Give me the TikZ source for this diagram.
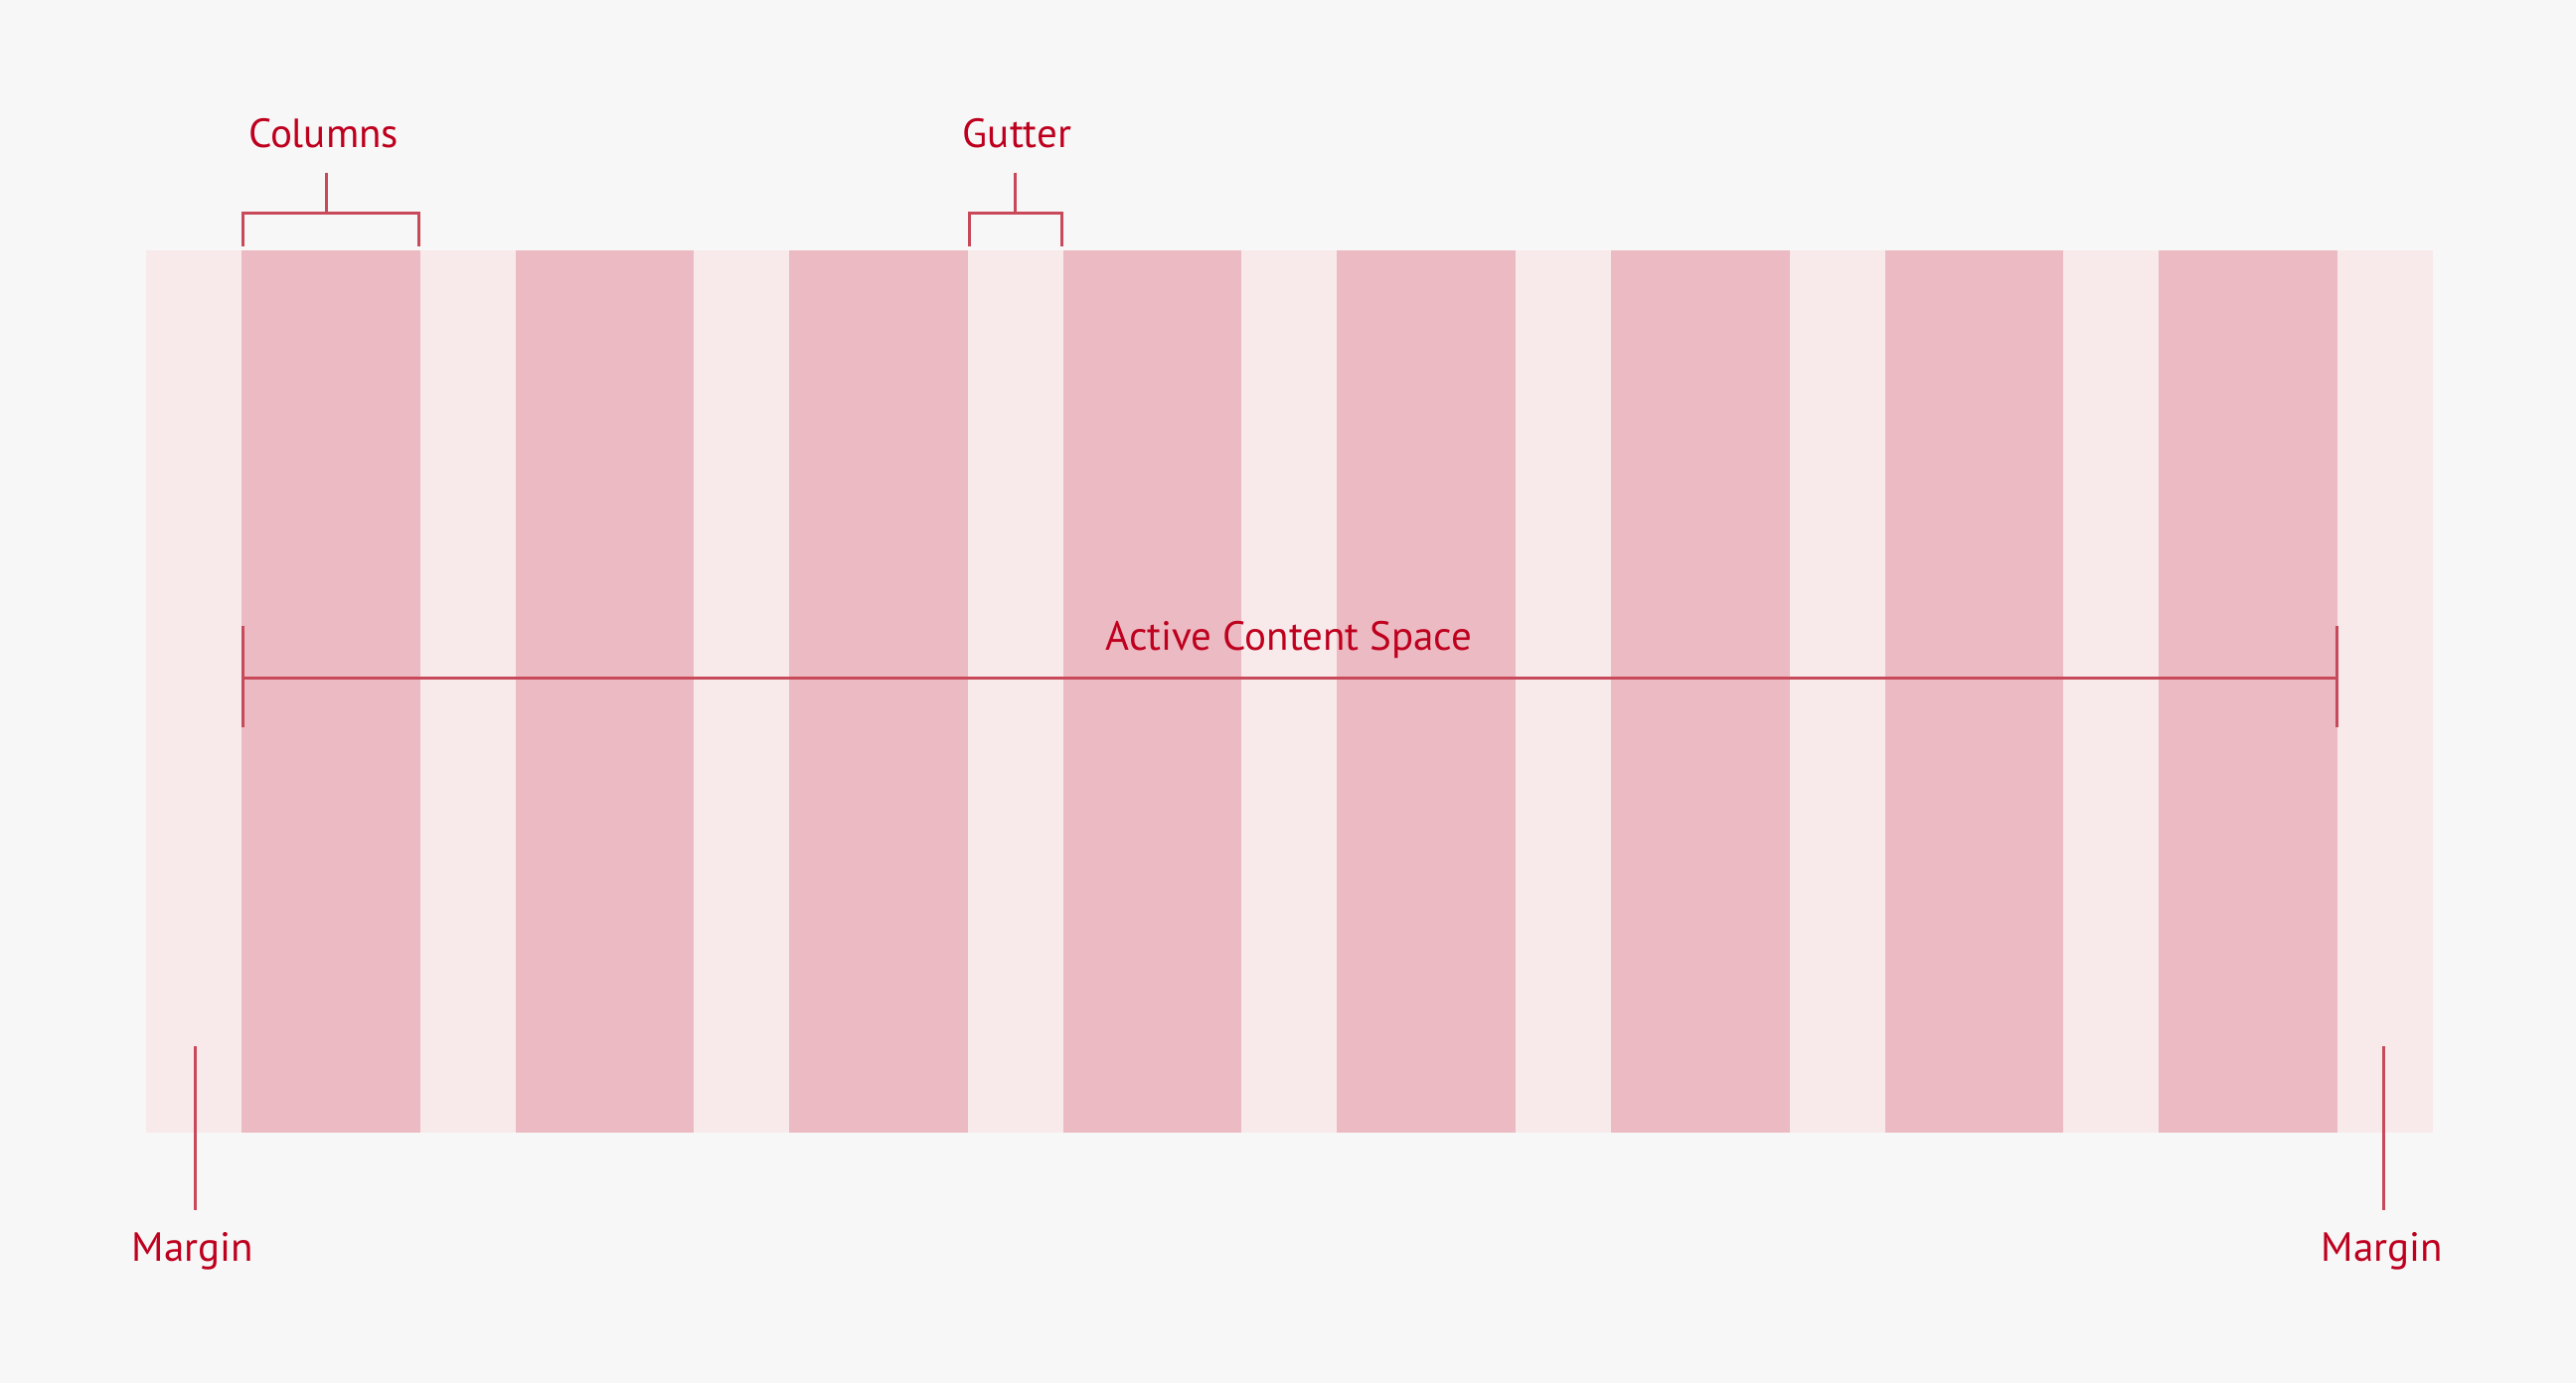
\documentclass[tikz,border=0pt]{standalone}
\usepackage{fontspec}
\setmainfont{PT Sans}
\usetikzlibrary{calc}
\definecolor{bgc}{HTML}{F7F7F7}
\definecolor{lightc}{HTML}{F8EAEB}
\definecolor{colc}{HTML}{ECBAC2}
\definecolor{linec}{HTML}{C84A5A}
\definecolor{textc}{HTML}{BE001E}
\begin{document}
\begin{tikzpicture}[x=1pt,y=-1pt,
  colbox/.style={rectangle,fill=colc,inner sep=0pt,outer sep=0pt,minimum width=179.6pt,minimum height=888pt,anchor=north west},
  lbl/.style={text=textc,font=\fontsize{41}{49}\selectfont,inner sep=0pt,anchor=base},
  mark line/.style={draw=linec,line width=3pt}]
\fill[bgc] (0,0) rectangle (2592,1392);
\useasboundingbox (0,0) rectangle (2592,1392);
\node[rectangle,fill=lightc,inner sep=0pt,outer sep=0pt,minimum width=2301pt,minimum height=888pt,anchor=north west] (area) at (147,252) {};
\foreach \i in {1,...,8}{
  \node[colbox] (col\i) at ({243+(\i-1)*275.6},252) {};
}
% labels
\node[lbl] (columns) at (325.5,148) {Columns};
\node[lbl] (gutter) at (1023.5,148) {Gutter};
\node[lbl] (active) at (1297,654) {Active Content Space};
\node[lbl] (marginl) at (194,1269) {Margin};
\node[lbl] (marginr) at (2397,1269) {Margin};
% columns bracket
\coordinate (cbl) at ([xshift=1.5pt,yshift=4pt]col1.north west);
\coordinate (cbr) at ([xshift=-1.5pt,yshift=4pt]col1.north east);
\coordinate (cstemb) at (328,214);
\draw[mark line] (cbl) -- ++(0,-34) -| (cbr);
\draw[mark line] (cstemb) -- ++(0,-40);
% gutter bracket
\coordinate (gbl) at ([xshift=1.5pt,yshift=4pt]col3.north east);
\coordinate (gbr) at ([xshift=-1.5pt,yshift=4pt]col4.north west);
\coordinate (gstemb) at ($(gbl)!0.5!(gbr)$);
\draw[mark line] (gbl) -- ++(0,-34) -| (gbr);
\draw[mark line] ([yshift=34pt]gstemb) -- ++(0,-40);
% active content space
\coordinate (al) at ([xshift=1.5pt]col1.west |- 0,682);
\coordinate (ar) at (col8.east |- 0,682);
\draw[mark line] (al) -- (ar);
\draw[mark line] ([yshift=52pt]al) -- ([yshift=-50pt]al);
\draw[mark line] ([yshift=52pt]ar) -- ([yshift=-50pt]ar);
% margins
\coordinate (mlt) at (196,1053);
\coordinate (mrt) at (2398,1053);
\draw[mark line] (mlt) -- (mlt |- 0,1218);
\draw[mark line] (mrt) -- (mrt |- 0,1218);
\end{tikzpicture}
\end{document}
